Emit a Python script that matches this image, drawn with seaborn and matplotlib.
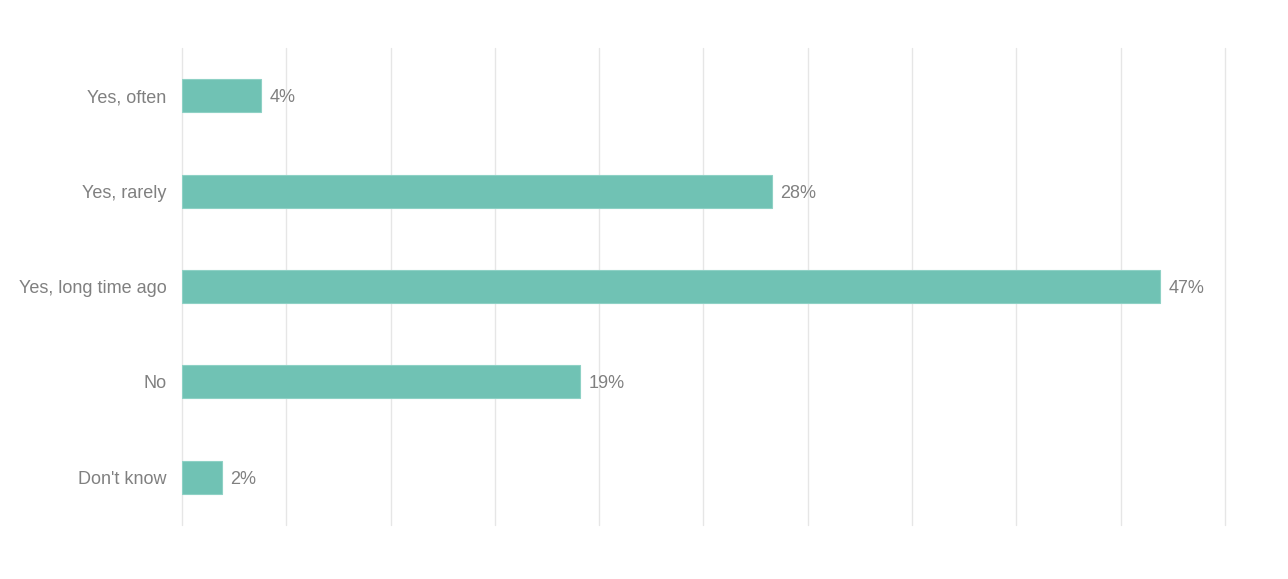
import matplotlib
matplotlib.use('Agg')
import matplotlib.pyplot as plt
import seaborn as sns
import pandas as pd

# survey answers and shares (percent)
answers = ['Yes, often', 'Yes, rarely', 'Yes, long time ago', 'No', "Don't know"]
shares = [3.8, 28.3, 46.9, 19.1, 1.9]
labels = ['4%', '28%', '47%', '19%', '2%']

df = pd.DataFrame({'answer': answers, 'share': shares})

sns.set_style('white')
plt.rcParams['font.family'] = ['Liberation Sans', 'DejaVu Sans']

fig = plt.figure(figsize=(12.88, 5.79), dpi=100)
ax = fig.add_axes([0.1413, 0.0933, 0.8097, 0.8238])

sns.barplot(data=df, x='share', y='answer', color='#70c2b4', width=0.345,
            edgecolor='#8ed1c5', linewidth=0.8, saturation=1, ax=ax)

ax.set_xlim(0, 50)
ax.set_ylim(4.5, -0.5)
ax.set_xticks(range(0, 51, 5))
ax.set_xticklabels([])
ax.grid(axis='x', color='#e6e6e6', linewidth=1)
for gl in ax.get_xgridlines():
    gl.set_clip_on(False)
ax.set_axisbelow(True)
for s in ax.spines.values():
    s.set_visible(False)
ax.tick_params(axis='both', length=0)
ax.tick_params(axis='y', labelsize=13, labelcolor='#808080', pad=11)
for t in ax.get_yticklabels():
    t.set_va('center_baseline')
ax.set_xlabel('')
ax.set_ylabel('')

for i, (v, lab) in enumerate(zip(shares, labels)):
    ax.annotate(lab, (v, i), xytext=(6, 0), textcoords='offset points',
                ha='left', va='center_baseline', fontsize=13, color='#808080')

plt.savefig('out.png', dpi=100)
